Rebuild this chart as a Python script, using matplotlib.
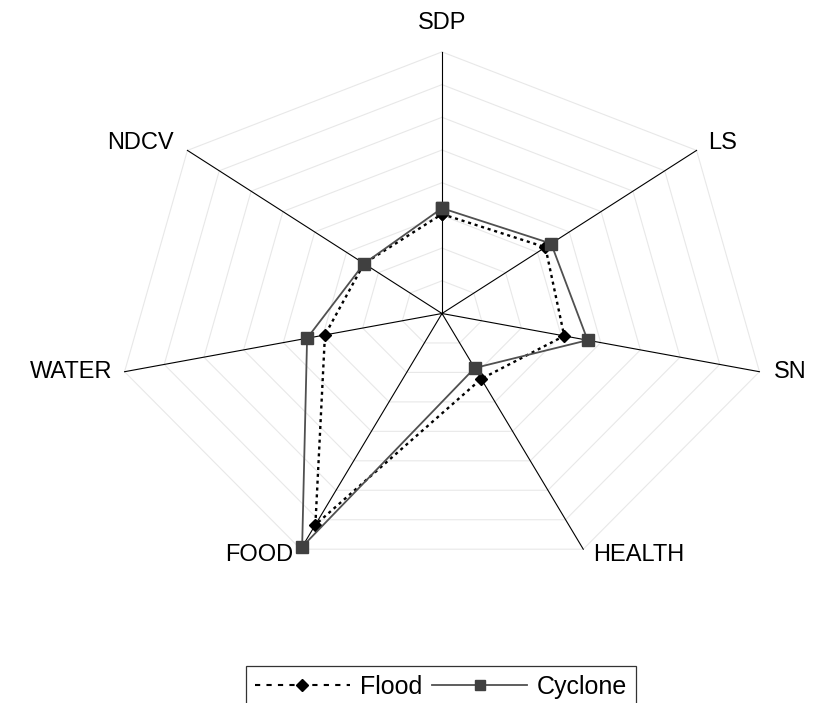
import numpy as np
import matplotlib
matplotlib.use("Agg")
import matplotlib.pyplot as plt
from matplotlib.lines import Line2D

plt.rcParams["font.family"] = ["Liberation Sans", "DejaVu Sans"]

# ── Data ──────────────────────────────────────────────────────────────────────
CATEGORIES = ["SDP", "LS", "SN", "HEALTH", "FOOD", "WATER", "NDCV"]
FLOOD      = [3.04, 3.25, 3.08, 2.22, 7.17, 2.95, 2.45]
CYCLONE    = [3.22, 3.43, 3.67, 1.85, 7.92, 3.40, 2.45]
N_LEVELS   = 8

# ── Layout (pixels) ───────────────────────────────────────────────────────────
W, H       = 813, 703
CX, CY     = 442.0, 313.5      # centre of the web
UX, UY     = 40.7, 32.7        # pixels per unit, horizontal / vertical
LABEL_OFF  = [(0, 29), (12, 7), (14, 0), (10, -6), (-7, -6), (-12, 0), (-14, 7)]

fig = plt.figure(figsize=(W / 100, H / 100), dpi=100)
ax = fig.add_axes([0, 0, 1, 1])
ax.set_xlim(-CX / UX, (W - CX) / UX)
ax.set_ylim(-(H - CY) / UY, CY / UY)
ax.axis("off")

n = len(CATEGORIES)
theta = 2 * np.pi * np.arange(n) / n
sx, sy = np.sin(theta), np.cos(theta)


def to_xy(vals):
    v = np.asarray(vals, dtype=float)
    x, y = v * sx, v * sy
    return np.append(x, x[0]), np.append(y, y[0])


# grid heptagons
for k in range(1, N_LEVELS + 1):
    gx, gy = to_xy([k] * n)
    ax.plot(gx, gy, color="#e8e8e8", lw=0.8, zorder=1)

# spokes
for i in range(n):
    ax.plot([0, N_LEVELS * sx[i]], [0, N_LEVELS * sy[i]],
            color="black", lw=0.8, zorder=2)

# series
fx, fy = to_xy(FLOOD)
ax.plot(fx, fy, color="black", lw=1.7, ls=(0, (1.3, 1.6)),
        marker="D", ms=6.5, mfc="black", mec="black", zorder=3)
cx_, cy_ = to_xy(CYCLONE)
ax.plot(cx_, cy_, color="#505050", lw=1.3, ls="-",
        marker="s", ms=8, mfc="#404040", mec="#404040", zorder=4)

# category labels
for i, lab in enumerate(CATEGORIES):
    if sx[i] > 0.1:
        ha = "left"
    elif sx[i] < -0.1:
        ha = "right"
    else:
        ha = "center"
    ax.annotate(lab, xy=(N_LEVELS * sx[i], N_LEVELS * sy[i]),
                xytext=LABEL_OFF[i], textcoords="offset pixels",
                ha=ha, va="center", fontsize=17, color="black")

# legend
handles = [
    Line2D([], [], color="black", lw=1.5, ls=(0, (2.5, 3)),
           marker="D", ms=6, mfc="black", mec="black"),
    Line2D([], [], color="#505050", lw=1.3, ls="-",
           marker="s", ms=7.5, mfc="#404040", mec="#404040"),
]
leg = fig.legend(handles, ["Flood", "Cyclone"], ncol=2,
                 loc="upper center", bbox_to_anchor=(441 / W, 1 - 666 / H),
                 fontsize=18, frameon=True, fancybox=False,
                 handlelength=3.8, handletextpad=0.4, columnspacing=0.4,
                 borderpad=0.35, borderaxespad=0)
leg.get_frame().set_edgecolor("black")
leg.get_frame().set_linewidth(0.9)

fig.savefig("out.png", dpi=100)
